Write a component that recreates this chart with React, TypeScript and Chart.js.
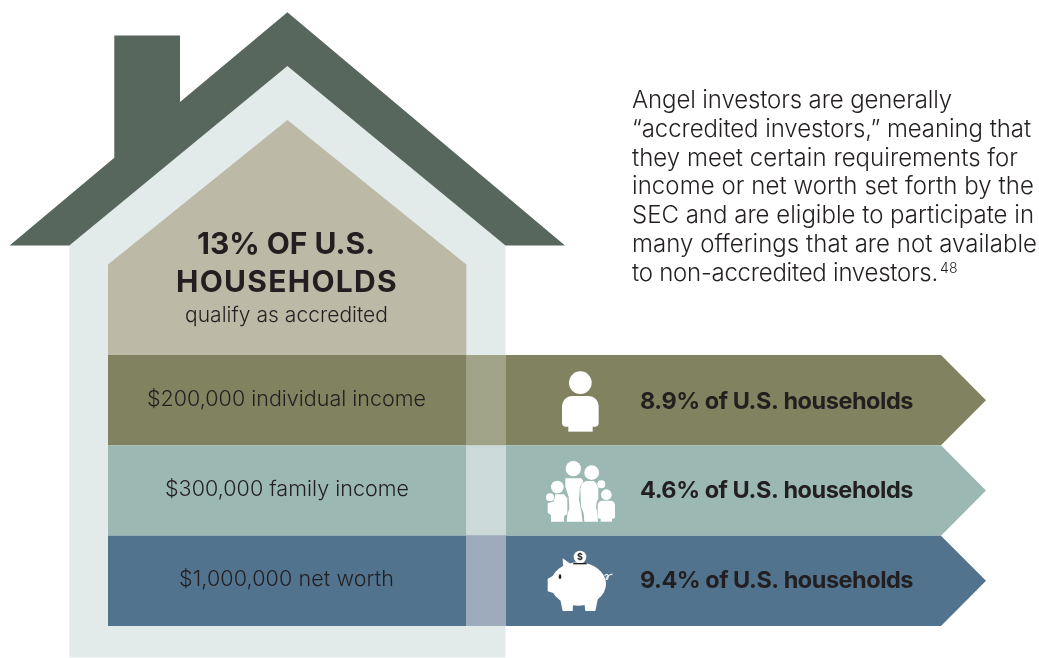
import React, { useEffect, useRef } from "react";
import { Chart, registerables } from "chart.js";

Chart.register(...registerables);

// ---- content
const bandCategories = ["$200,000 individual income", "$300,000 family income", "$1,000,000 net worth"];
const bandShares = [8.9, 4.6, 9.4];
const headlineLines = ["13% OF U.S.", "HOUSEHOLDS"];
const headlineNote = "qualify as accredited";
const bodyLines = [
  "Angel investors are generally",
  "\u201Caccredited investors,\u201D meaning that",
  "they meet certain requirements for",
  "income or net worth set forth by the",
  "SEC and are eligible to participate in",
  "many offerings that are not available",
  "to non-accredited investors.",
];
const footnote = "48";

// ---- layout (in the 1039x658 axis units)
const W = 1039, H = 658;
const bandEdges = [355, 445.3, 535.7, 626];
const bandColors = ["#81825f", "#9bb8b3", "#52738e"];
const bandOverlays = ["#a1a389", "#cbdad8", "#9eabbd"];
const INK = "#231f20";
const FONT = "Inter, 'Noto Sans', sans-serif";

type P = { x: number; y: number };
const poly = (...c: number[]): P[] => {
  const out: P[] = [];
  for (let i = 0; i < c.length; i += 2) out.push({ x: c[i], y: c[i + 1] });
  return out;
};
const shape = (data: P[], color: string) => ({
  type: "scatter" as const,
  data: [...data, data[0]],
  showLine: true,
  fill: "shape",
  backgroundColor: color,
  borderColor: color,
  borderWidth: 0,
  pointRadius: 0,
  tension: 0,
});

const shapes: any[] = [
  shape(poly(287.4, 12.3, 565, 245.5, 9.6, 245.5, 114.3, 157.7, 114.3, 35.5, 180, 35.5, 180, 102), "#58675e"),
  shape(poly(287.4, 66, 505.5, 245.5, 505.5, 657.5, 69.3, 657.5, 69.3, 245.5), "#e2eaea"),
  shape(poly(287.4, 120, 466.3, 264.5, 466.3, 355, 108, 355, 108, 264.5), "#bcbaa7"),
];
bandCategories.forEach((_, i) => {
  const t = bandEdges[i], b = bandEdges[i + 1], m = (t + b) / 2;
  shapes.push(shape(poly(108, t, 941, t, 986, m, 941, b, 108, b), bandColors[i]));
  shapes.push(shape(poly(466, t, 506, t, 506, b, 466, b), bandOverlays[i]));
});
shapes.forEach((d, i) => (d.order = shapes.length - i));

function drawText(ctx: CanvasRenderingContext2D, s: string, x: number, y: number, w: number, font: string) {
  ctx.font = font;
  (ctx as any).letterSpacing = "0px";
  const m = ctx.measureText(s).width;
  (ctx as any).letterSpacing = ((w - m) / s.length).toFixed(3) + "px";
  ctx.textAlign = "left";
  ctx.textBaseline = "alphabetic";
  ctx.fillStyle = INK;
  ctx.fillText(s, x, y);
  (ctx as any).letterSpacing = "0px";
}

const textPlugin = {
  id: "infographicText",
  afterDatasetsDraw(chart: any) {
    const { ctx, scales } = chart;
    const X = (v: number) => scales.x.getPixelForValue(v);
    const Y = (v: number) => scales.y.getPixelForValue(v);
    ctx.save();

    const headFont = `700 30px ${FONT}`;
    drawText(ctx, headlineLines[0], X(197), Y(254), 178, headFont);
    drawText(ctx, headlineLines[1], X(176), Y(292), 222, headFont);
    drawText(ctx, headlineNote, X(185), Y(322), 203, `300 21px ${FONT}`);

    const bodyWidths = [320, 399, 386, 402, 402, 405, 306];
    bodyLines.forEach((l, i) => drawText(ctx, l, X(632), Y(108 + i * 28.75), bodyWidths[i], `300 24px ${FONT}`));
    drawText(ctx, footnote, X(940), Y(273), 18, `300 14px ${FONT}`);

    const leftX = [147, 165, 179], leftW = [279, 244, 215];
    const leftOff = [51, 51, 50], rightOff = [54, 53, 52.5];
    bandCategories.forEach((l, i) => {
      drawText(ctx, l, X(leftX[i]), Y(bandEdges[i] + leftOff[i]), leftW[i], `300 21.5px ${FONT}`);
      drawText(ctx, `${bandShares[i]}% of U.S. households`, X(640), Y(bandEdges[i] + rightOff[i]), 273, `700 23.5px ${FONT}`);
    });

    // icons, in the reference's zoom-space (3x about 440,340)
    const ix = (v: number) => X(440 + v / 3);
    const iy = (v: number) => Y(340 + v / 3);
    const k = 1 / 3;
    const circle = (x: number, y: number, r: number) => {
      ctx.beginPath();
      ctx.arc(ix(x), iy(y), r * k, 0, Math.PI * 2);
      ctx.fill();
    };
    const path = (...c: number[]) => {
      ctx.beginPath();
      ctx.moveTo(ix(c[0]), iy(c[1]));
      for (let i = 2; i < c.length; i += 2) ctx.lineTo(ix(c[i]), iy(c[i + 1]));
      ctx.closePath();
      ctx.fill();
    };
    ctx.fillStyle = "#ffffff";

    // person
    circle(421, 128, 34);
    ctx.beginPath();
    ctx.roundRect(ix(366), iy(168), 110 * k, 92 * k, [30 * k, 30 * k, 12 * k, 12 * k]);
    ctx.fill();
    path(385, 250, 458, 250, 458, 275, 385, 275);

    // family
    circle(400, 386, 23); circle(455, 398, 22); circle(352, 441, 19); circle(330, 472, 12);
    circle(499, 464, 16);
    path(376, 415, 424, 415, 430, 423, 420, 440, 417, 480, 424, 515, 428, 545, 380, 545, 382, 525, 388, 505, 386, 470, 376, 440); // father
    path(438, 423, 462, 423, 475, 437, 475, 478, 470, 485, 468, 500, 472, 520, 474, 545, 433, 545, 431, 520, 423, 500, 421, 445, 426, 430); // mother
    path(345, 463, 372, 463, 382, 475, 382, 522, 372, 528, 372, 545, 333, 545, 333, 525, 323, 518, 323, 490, 340, 485, 345, 470); // left kid
    ctx.beginPath();
    ctx.roundRect(ix(473), iy(482), 52 * k, 54 * k, [14 * k, 14 * k, 6 * k, 6 * k]);
    ctx.fill();
    path(482, 525, 516, 525, 516, 545, 482, 545); // right kid
    ctx.beginPath();
    ctx.arc(ix(484), iy(433), 12 * k, 0, Math.PI * 2);
    ctx.strokeStyle = bandColors[1];
    ctx.lineWidth = 1.2;
    ctx.stroke();
    ctx.fill();

    // pig
    ctx.fillStyle = "#ffffff";
    ctx.beginPath();
    ctx.ellipse(ix(415), iy(732), 83 * k, 65 * k, 0, 0, Math.PI * 2);
    ctx.fill();
    path(368, 655, 392, 672, 370, 695); // ear
    path(323, 716, 345, 704, 350, 762, 323, 754); // snout
    path(358, 765, 400, 780, 398, 813, 368, 813); // left leg
    path(432, 780, 476, 765, 466, 813, 436, 813); // right leg
    circle(420, 651, 19);
    ctx.fillStyle = "#231f20";
    ctx.beginPath();
    ctx.ellipse(ix(360), iy(710), 4 * k, 7 * k, 0, 0, Math.PI * 2);
    ctx.fill();
    ctx.fillRect(ix(400), iy(669), 40 * k, 4 * k);
    ctx.font = `700 9px ${FONT}`;
    ctx.textAlign = "center";
    ctx.textBaseline = "middle";
    ctx.fillText("$", ix(420), iy(651));
    ctx.strokeStyle = "#f2f5f6";
    ctx.lineWidth = 1.1;
    ctx.beginPath();
    ctx.moveTo(ix(494), iy(708));
    ctx.bezierCurveTo(ix(498), iy(698), ix(510), iy(705), ix(502), iy(718));
    ctx.bezierCurveTo(ix(494), iy(722), ix(498), iy(706), ix(518), iy(702));
    ctx.stroke();

    ctx.restore();
  },
};

export default function App() {
  const ref = useRef<HTMLCanvasElement>(null);
  useEffect(() => {
    document.body.style.margin = "0";
    const chart = new Chart(ref.current!, {
      type: "scatter",
      data: { datasets: shapes },
      options: {
        animation: false,
        responsive: false,
        layout: { padding: 0 },
        plugins: { legend: { display: false }, tooltip: { enabled: false }, title: { display: false } },
        scales: {
          x: { type: "linear", min: 0, max: W, display: false },
          y: { type: "linear", min: 0, max: H, reverse: true, display: false },
        },
      },
      plugins: [textPlugin],
    } as any);
    return () => chart.destroy();
  }, []);
  return <canvas ref={ref} width={W} height={H} style={{ display: "block" }} />;
}
